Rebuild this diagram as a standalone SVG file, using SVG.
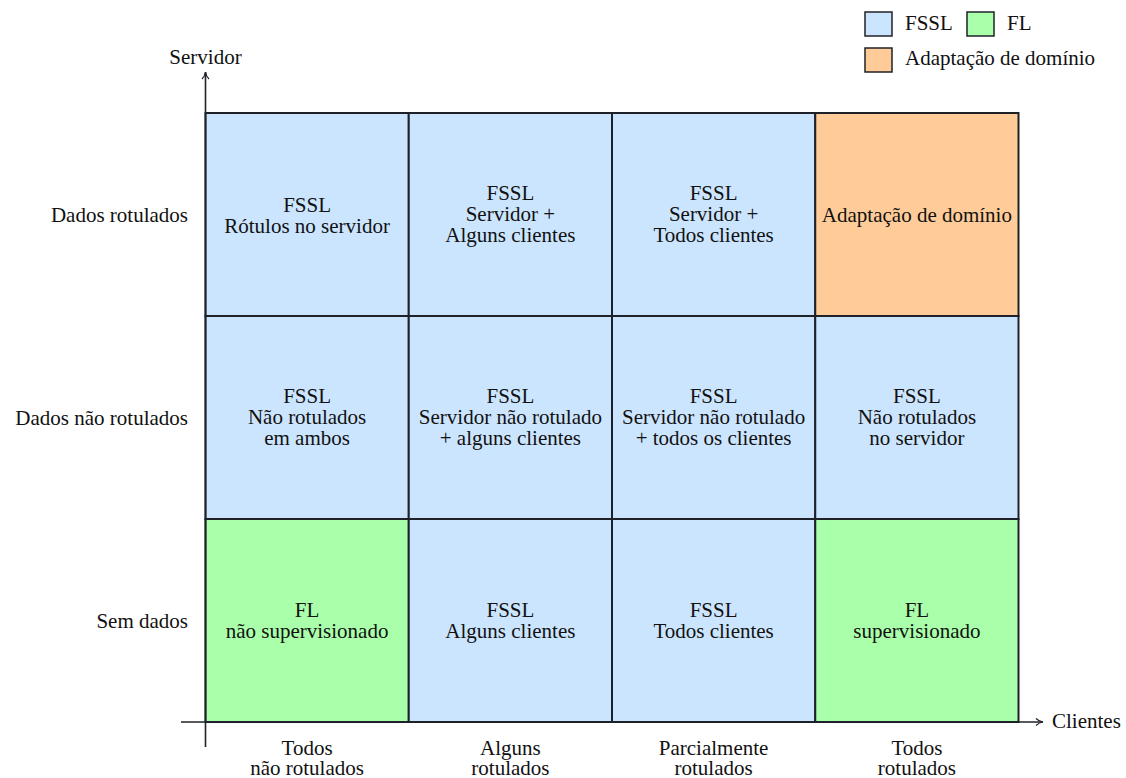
<svg xmlns="http://www.w3.org/2000/svg" width="1126" height="778" viewBox="0 0 1126 778">
<defs>
<style>
text{font-family:"Liberation Serif","Times New Roman",Times,serif;font-size:21px;fill:#111;}
.c{text-anchor:middle;}
.r{text-anchor:end;}
.cell{stroke:#1e2228;stroke-width:2;}
.blue{fill:#cce5ff;}
.green{fill:#aaffaa;}
.orange{fill:#ffcc99;}
.leg{stroke:#1e2228;stroke-width:1.5;}
.axis{stroke:#1e2228;stroke-width:1.6;fill:none;}
</style>
<marker id="arr" viewBox="0 0 10 10" refX="9" refY="5" markerWidth="10" markerHeight="10" markerUnits="userSpaceOnUse" orient="auto">
<path d="M2,1.5 Q5,4.5 9,5 Q5,5.5 2,8.5" fill="none" stroke="#1e2228" stroke-width="1.2"/>
</marker>
</defs>

<g id="legend">
<rect class="leg blue" x="865" y="12" width="27" height="24"/>
<text x="905" y="30">FSSL</text>
<rect class="leg green" x="967" y="12" width="27" height="24"/>
<text x="1007" y="30">FL</text>
<rect class="leg orange" x="865" y="48" width="27" height="24"/>
<text x="905" y="65">Adaptação de domínio</text>
</g>

<g id="cell-1-1"><rect class="cell blue" x="205.5" y="113" width="203.25" height="203"/>
<text class="c" x="307.1" y="211.5">FSSL</text><text class="c" x="307.1" y="232.5">Rótulos no servidor</text></g>
<g id="cell-1-2"><rect class="cell blue" x="408.75" y="113" width="203.25" height="203"/>
<text class="c" x="510.4" y="200">FSSL</text><text class="c" x="510.4" y="221">Servidor +</text><text class="c" x="510.4" y="242">Alguns clientes</text></g>
<g id="cell-1-3"><rect class="cell blue" x="612" y="113" width="203.25" height="203"/>
<text class="c" x="713.6" y="200">FSSL</text><text class="c" x="713.6" y="221">Servidor +</text><text class="c" x="713.6" y="242">Todos clientes</text></g>
<g id="cell-1-4"><rect class="cell orange" x="815.25" y="113" width="203.25" height="203"/>
<text class="c" x="916.9" y="221.5">Adaptação de domínio</text></g>

<g id="cell-2-1"><rect class="cell blue" x="205.5" y="316" width="203.25" height="203"/>
<text class="c" x="307.1" y="403">FSSL</text><text class="c" x="307.1" y="424">Não rotulados</text><text class="c" x="307.1" y="445">em ambos</text></g>
<g id="cell-2-2"><rect class="cell blue" x="408.75" y="316" width="203.25" height="203"/>
<text class="c" x="510.4" y="403">FSSL</text><text class="c" x="510.4" y="424">Servidor não rotulado</text><text class="c" x="510.4" y="445">+ alguns clientes</text></g>
<g id="cell-2-3"><rect class="cell blue" x="612" y="316" width="203.25" height="203"/>
<text class="c" x="713.6" y="403">FSSL</text><text class="c" x="713.6" y="424">Servidor não rotulado</text><text class="c" x="713.6" y="445">+ todos os clientes</text></g>
<g id="cell-2-4"><rect class="cell blue" x="815.25" y="316" width="203.25" height="203"/>
<text class="c" x="916.9" y="403">FSSL</text><text class="c" x="916.9" y="424">Não rotulados</text><text class="c" x="916.9" y="445">no servidor</text></g>

<g id="cell-3-1"><rect class="cell green" x="205.5" y="519" width="203.25" height="203"/>
<text class="c" x="307.1" y="616.5">FL</text><text class="c" x="307.1" y="637.5">não supervisionado</text></g>
<g id="cell-3-2"><rect class="cell blue" x="408.75" y="519" width="203.25" height="203"/>
<text class="c" x="510.4" y="616.5">FSSL</text><text class="c" x="510.4" y="637.5">Alguns clientes</text></g>
<g id="cell-3-3"><rect class="cell blue" x="612" y="519" width="203.25" height="203"/>
<text class="c" x="713.6" y="616.5">FSSL</text><text class="c" x="713.6" y="637.5">Todos clientes</text></g>
<g id="cell-3-4"><rect class="cell green" x="815.25" y="519" width="203.25" height="203"/>
<text class="c" x="916.9" y="616.5">FL</text><text class="c" x="916.9" y="637.5">supervisionado</text></g>

<g id="connectors">
<line class="axis" x1="205.5" y1="747" x2="205.5" y2="72" marker-end="url(#arr)"/>
<line class="axis" x1="181" y1="722" x2="1043" y2="722" marker-end="url(#arr)"/>
</g>

<g id="axis-labels">
<text class="c" x="205.5" y="64">Servidor</text>
<text x="1052" y="728">Clientes</text>
<text class="r" x="188" y="222">Dados rotulados</text>
<text class="r" x="188" y="425">Dados não rotulados</text>
<text class="r" x="188" y="628">Sem dados</text>
<text class="c" x="307.1" y="755">Todos</text><text class="c" x="307.1" y="775">não rotulados</text>
<text class="c" x="510.4" y="755">Alguns</text><text class="c" x="510.4" y="775">rotulados</text>
<text class="c" x="713.6" y="755">Parcialmente</text><text class="c" x="713.6" y="775">rotulados</text>
<text class="c" x="916.9" y="755">Todos</text><text class="c" x="916.9" y="775">rotulados</text>
</g>
</svg>
